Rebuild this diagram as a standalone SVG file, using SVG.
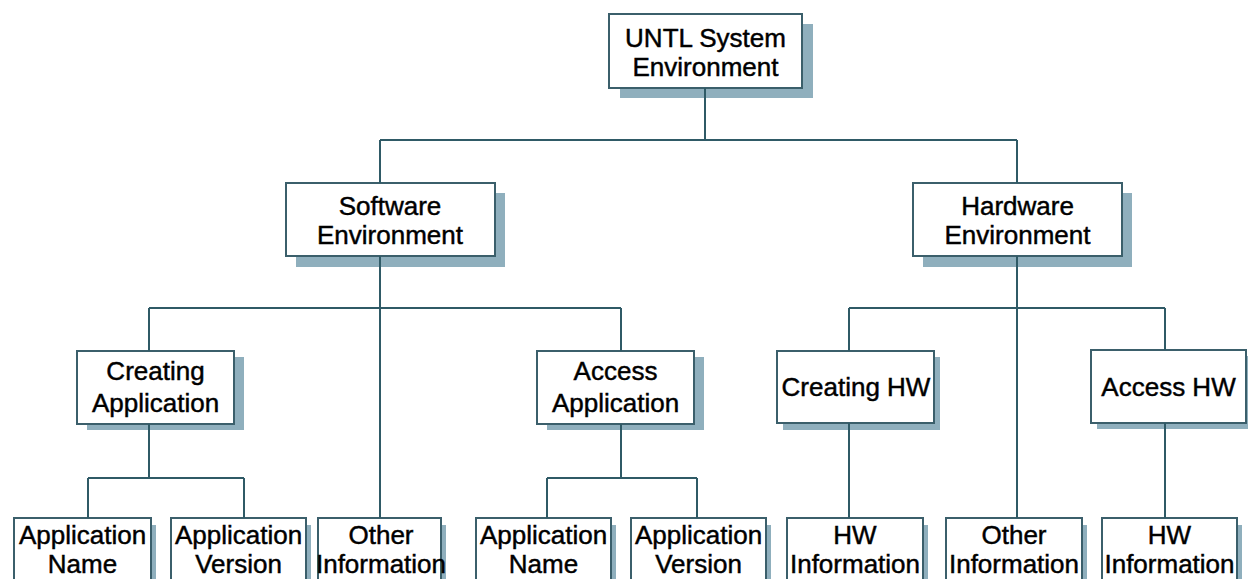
<svg xmlns="http://www.w3.org/2000/svg" width="1248" height="579" viewBox="0 0 1248 579">
  <style>
    .shadow { fill: #8fafbd; }
    .box { fill: #ffffff; stroke: #3b5f6b; stroke-width: 2; }
    .label { font-family: "Liberation Sans", Arial, sans-serif; font-size: 26px; fill: #000000; stroke: #000000; stroke-width: 0.45; text-anchor: middle; }
    .wire { fill: none; stroke: #2f5a66; stroke-width: 2; }
  </style>
  <rect width="1248" height="579" fill="#ffffff"/>

  <!-- level 0 -->
  <g id="untl-system-environment">
    <rect class="shadow" x="620" y="24" width="193" height="74"/>
    <rect class="box" x="609" y="14" width="193" height="74"/>
    <text class="label" x="705.5" y="47">UNTL System</text>
    <text class="label" x="705.5" y="76">Environment</text>
  </g>

  <!-- level 1 -->
  <g id="software-environment">
    <rect class="shadow" x="296" y="193" width="209" height="74"/>
    <rect class="box" x="286" y="183" width="209" height="73"/>
    <text class="label" x="390" y="215">Software</text>
    <text class="label" x="390" y="244">Environment</text>
  </g>
  <g id="hardware-environment">
    <rect class="shadow" x="923" y="193" width="209" height="74"/>
    <rect class="box" x="913" y="183" width="209" height="73"/>
    <text class="label" x="1017.5" y="215">Hardware</text>
    <text class="label" x="1017.5" y="244">Environment</text>
  </g>

  <!-- level 2 -->
  <g id="creating-application">
    <rect class="shadow" x="87" y="357" width="157" height="73"/>
    <rect class="box" x="77" y="351" width="157" height="73"/>
    <text class="label" x="155.5" y="380">Creating</text>
    <text class="label" x="155.5" y="412">Application</text>
  </g>
  <g id="access-application">
    <rect class="shadow" x="547" y="357" width="157" height="73"/>
    <rect class="box" x="537" y="351" width="157" height="73"/>
    <text class="label" x="615.5" y="380">Access</text>
    <text class="label" x="615.5" y="412">Application</text>
  </g>
  <g id="creating-hw">
    <rect class="shadow" x="783" y="357" width="157" height="73"/>
    <rect class="box" x="777" y="351" width="157" height="72"/>
    <text class="label" x="856" y="396">Creating HW</text>
  </g>
  <g id="access-hw">
    <rect class="shadow" x="1097" y="356" width="155" height="73"/>
    <rect class="box" x="1091" y="350" width="155" height="73"/>
    <text class="label" x="1168.5" y="396">Access HW</text>
  </g>

  <!-- level 3 -->
  <g id="creating-application-name">
    <rect class="shadow" x="19" y="525" width="137" height="70"/>
    <rect class="box" x="14" y="518" width="137" height="70"/>
    <text class="label" x="82.5" y="544">Application</text>
    <text class="label" x="82.5" y="573">Name</text>
  </g>
  <g id="creating-application-version">
    <rect class="shadow" x="176" y="525" width="135" height="70"/>
    <rect class="box" x="171" y="518" width="135" height="70"/>
    <text class="label" x="238.5" y="544">Application</text>
    <text class="label" x="238.5" y="573">Version</text>
  </g>
  <g id="software-other-information">
    <rect class="shadow" x="323" y="525" width="123" height="70"/>
    <rect class="box" x="318" y="518" width="123" height="70"/>
    <text class="label" x="381" y="544">Other</text>
    <text class="label" x="381" y="573">Information</text>
  </g>
  <g id="access-application-name">
    <rect class="shadow" x="481" y="525" width="135" height="70"/>
    <rect class="box" x="476" y="518" width="135" height="70"/>
    <text class="label" x="543.5" y="544">Application</text>
    <text class="label" x="543.5" y="573">Name</text>
  </g>
  <g id="access-application-version">
    <rect class="shadow" x="636" y="525" width="135" height="70"/>
    <rect class="box" x="631" y="518" width="135" height="70"/>
    <text class="label" x="698.5" y="544">Application</text>
    <text class="label" x="698.5" y="573">Version</text>
  </g>
  <g id="creating-hw-information">
    <rect class="shadow" x="792" y="525" width="136" height="70"/>
    <rect class="box" x="787" y="518" width="136" height="70"/>
    <text class="label" x="855" y="544">HW</text>
    <text class="label" x="855" y="573">Information</text>
  </g>
  <g id="hardware-other-information">
    <rect class="shadow" x="951" y="525" width="136" height="70"/>
    <rect class="box" x="946" y="518" width="136" height="70"/>
    <text class="label" x="1014" y="544">Other</text>
    <text class="label" x="1014" y="573">Information</text>
  </g>
  <g id="access-hw-information">
    <rect class="shadow" x="1107" y="525" width="135" height="70"/>
    <rect class="box" x="1102" y="518" width="135" height="70"/>
    <text class="label" x="1169.5" y="544">HW</text>
    <text class="label" x="1169.5" y="573">Information</text>
  </g>

  <!-- tree connectors -->
  <g id="connectors">
    <path class="wire" d="M705 88 V140 M380 140 H1017 M380 140 V183 M1017 140 V183"/>
    <path class="wire" d="M380 256 V518 M149 308 H621 M149 308 V351 M621 308 V351"/>
    <path class="wire" d="M1017 256 V518 M849 308 H1165 M849 308 V351 M1165 308 V350"/>
    <path class="wire" d="M149 424 V478 M88 478 H244 M88 478 V518 M244 478 V518"/>
    <path class="wire" d="M621 424 V478 M547 478 H697 M547 478 V518 M697 478 V518"/>
    <path class="wire" d="M849 423 V518 M1165 423 V518"/>
  </g>
</svg>
